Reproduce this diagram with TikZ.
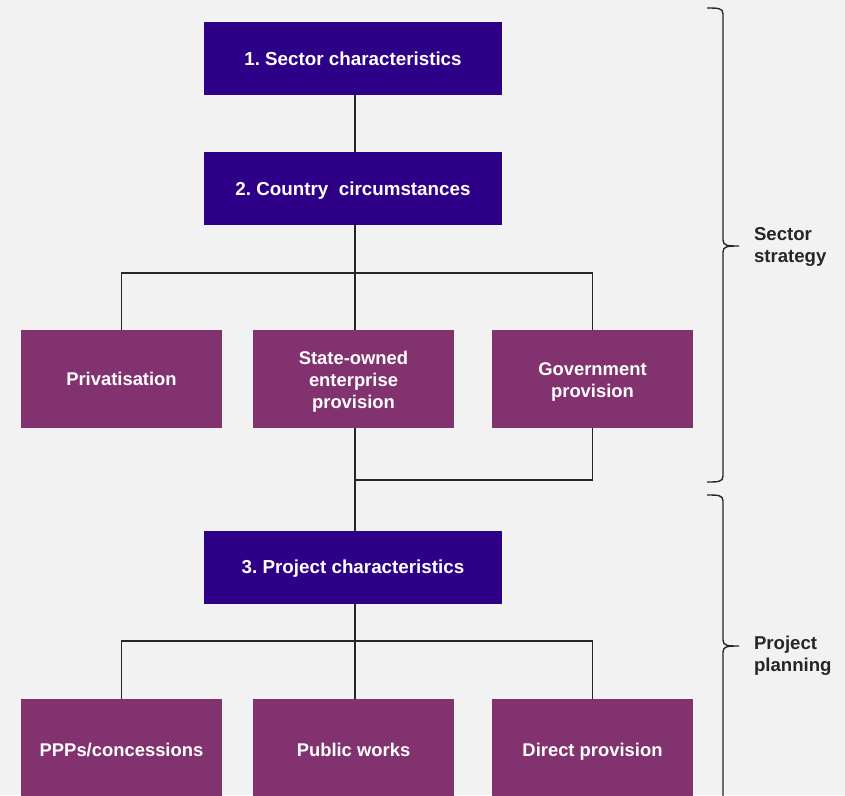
\documentclass[tikz,border=0pt]{standalone}
\usepackage{fontspec}
\setmainfont{Liberation Sans}
\definecolor{bg}{HTML}{F2F2F2}
\definecolor{navy}{HTML}{2E0087}
\definecolor{plum}{HTML}{833270}
\definecolor{ink}{HTML}{262626}
% stacked label lines, set a little lower than the geometric centre
\newcommand\stackedlabel[1]{\raisebox{-3pt}[\height][\depth]{\begin{tabular}{@{}c@{}}#1\end{tabular}}}
\frenchspacing
\begin{document}
\begin{tikzpicture}[x=1pt,y=-1pt,
  every node/.style={inner sep=0pt, outer sep=0pt},
  headbox/.style={fill=navy, minimum width=298pt, minimum height=73pt, text=white,
    text height=13.5pt, text depth=0pt,
    font=\fontsize{18.8}{22}\selectfont\bfseries, align=center},
  optbox/.style={fill=plum, minimum width=201pt, minimum height=98pt, text=white,
    font=\fontsize{18.4}{22}\selectfont\bfseries, align=center},
  lowbox/.style={optbox, minimum height=102pt, text height=13.5pt, text depth=0pt},
  link/.style={draw=ink, line width=1.5pt},
  bracket/.style={draw=ink, line width=1.4pt},
  sidelabel/.style={text=ink, font=\fontsize{18.6}{22}\selectfont\bfseries, anchor=base west}]
  \fill[bg] (0,0) rectangle (845,795);
  \useasboundingbox (0,0) rectangle (845,795);

  % main chain
  \node[headbox] (sector) at (353,58.5) {1. Sector characteristics};
  \node[headbox] (country) at (353,188.5) {2. Country\ \ circumstances};
  \node[headbox] (project) at (353,567) {3. Project characteristics};

  % ownership options
  \node[optbox] (priv) at (121.5,379) {Privatisation};
  \node[optbox] (soe) at (353.5,379) {\stackedlabel{State-owned\\enterprise\\provision}};
  \node[optbox] (gov) at (592.5,379) {\stackedlabel{Government\\provision}};

  % delivery options (running off the lower edge)
  \node[lowbox] (ppp) at (121.5,750) {PPPs/concessions};
  \node[lowbox] (works) at (353.5,750) {Public works};
  \node[lowbox] (direct) at (592.5,750) {Direct provision};

  % junction points
  \coordinate (split1) at (355,273);
  \coordinate (merge) at (355,480);
  \coordinate (split2) at (355,641);

  \draw[link] (sector.south -| split1) -- (country.north -| split1);
  \draw[link] (country.south -| split1) -- (split1);
  \draw[link] (priv.north) |- (split1) -| (gov.north);
  \draw[link] (split1) -- (soe.north -| split1);
  \draw[link] (soe.south -| merge) -- (project.north -| merge);
  \draw[link] (gov.south) |- (merge);
  \draw[link] (project.south -| split2) -- (split2);
  \draw[link] (ppp.north) |- (split2) -| (direct.north);
  \draw[link] (split2) -- (works.north -| split2);

  % braces
  \draw[bracket] (707,8) .. controls (718,8) and (723,8) .. (723,14)
    -- (723,240) .. controls (723,246) and (728,246) .. (739,246)
    .. controls (728,246) and (723,246) .. (723,252)
    -- (723,476) .. controls (723,482) and (718,482) .. (707,482);
  \draw[bracket] (707,495) .. controls (718,495) and (723,495) .. (723,501)
    -- (723,640) .. controls (723,646) and (728,646) .. (739,646)
    .. controls (728,646) and (723,646) .. (723,652)
    -- (723,800);

  \node[sidelabel] (strategy1) at (754,240) {Sector};
  \node[sidelabel] (strategy2) at (754,262) {strategy};
  \node[sidelabel] (planning1) at (754,649) {Project};
  \node[sidelabel] (planning2) at (754,671) {planning};
\end{tikzpicture}
\end{document}
